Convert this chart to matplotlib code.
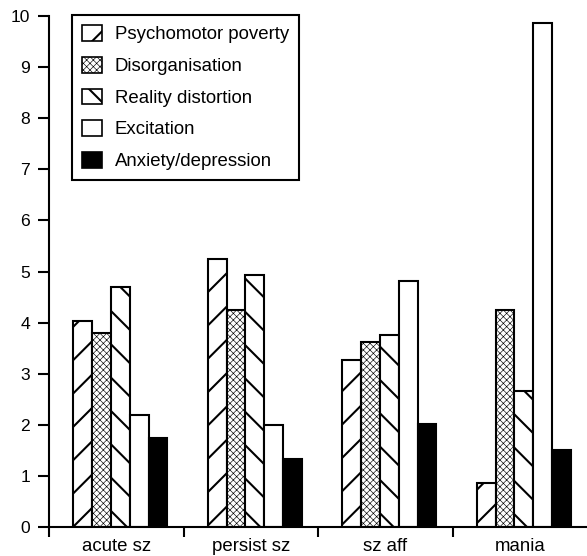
import matplotlib
matplotlib.use("Agg")
from matplotlib import pyplot as plt
import numpy as np

groups = ["acute sz", "persist sz", "sz aff", "mania"]
factors = ["Psychomotor poverty", "Disorganisation", "Reality distortion",
           "Excitation", "Anxiety/depression"]

psychomotor = [4.03, 5.25, 3.27, 0.86]
disorganisation = [3.80, 4.25, 3.63, 4.25]
reality = [4.70, 4.93, 3.75, 2.67]
excitation = [2.20, 2.00, 4.82, 9.86]
anxiety = [1.75, 1.33, 2.01, 1.51]

series = [psychomotor, disorganisation, reality, excitation, anxiety]
hatches = ["//", "x" * 10, "\\\\", "", ""]
fills = ["white", "white", "white", "white", "black"]
hatch_lw = [0.75, 0.22, 0.75, 0.5, 0.5]

# drawn at dpi 200 so the sparse hatch spacing matches; point sizes halved
DPI = 200
plt.rcParams["font.family"] = ["Liberation Sans", "DejaVu Sans"]
plt.rcParams["font.size"] = 6.7
plt.rcParams["hatch.linewidth"] = 0.75

fig = plt.figure(figsize=(587 / DPI, 556 / DPI), dpi=DPI)
ax = fig.add_axes([49 / 587, 29 / 556, 538 / 587, 511 / 556])

x = np.arange(len(groups)) + 0.53
width = 0.14
for k, vals in enumerate(series):
    with plt.rc_context({"hatch.linewidth": hatch_lw[k]}):
        b = ax.bar(x + (k - 2) * width, vals, width, color=fills[k],
                   edgecolor="black", linewidth=0.75, hatch=hatches[k],
                   label=factors[k], zorder=2)
    for p in b:
        if hasattr(p, "set_hatch_linewidth"):
            p.set_hatch_linewidth(hatch_lw[k])

ax.set_xlim(0, 4)
ax.set_ylim(0, 10)
ax.set_yticks(range(0, 11))
ax.set_xticks([0, 1, 2, 3])
ax.set_xticklabels([])
ax.set_xticks(np.arange(len(groups)) + 0.5, minor=True)
ax.set_xticklabels(groups, minor=True)

for s in ["top", "right"]:
    ax.spines[s].set_visible(False)
for s in ["left", "bottom"]:
    ax.spines[s].set_linewidth(0.75)

ax.tick_params(axis="y", length=4.0, width=0.75, pad=2.8, labelsize=6.3)
ax.tick_params(axis="x", which="major", length=3.6, width=0.75)
ax.tick_params(axis="x", which="minor", length=0, pad=4.0, labelsize=6.7)

leg = ax.legend(loc="upper left", bbox_to_anchor=(0.043, 1.002),
                borderaxespad=0, fancybox=False, framealpha=1,
                edgecolor="black", handlelength=1.08, handleheight=0.92,
                handletextpad=0.65, labelspacing=0.72, borderpad=0.55,
                fontsize=6.7)
leg.get_frame().set_linewidth(0.75)
for h, lw in zip(leg.legend_handles, hatch_lw):
    h.set_linewidth(0.6)
    if hasattr(h, "set_hatch_linewidth"):
        h.set_hatch_linewidth(lw)

fig.savefig("out.png", dpi=DPI)
